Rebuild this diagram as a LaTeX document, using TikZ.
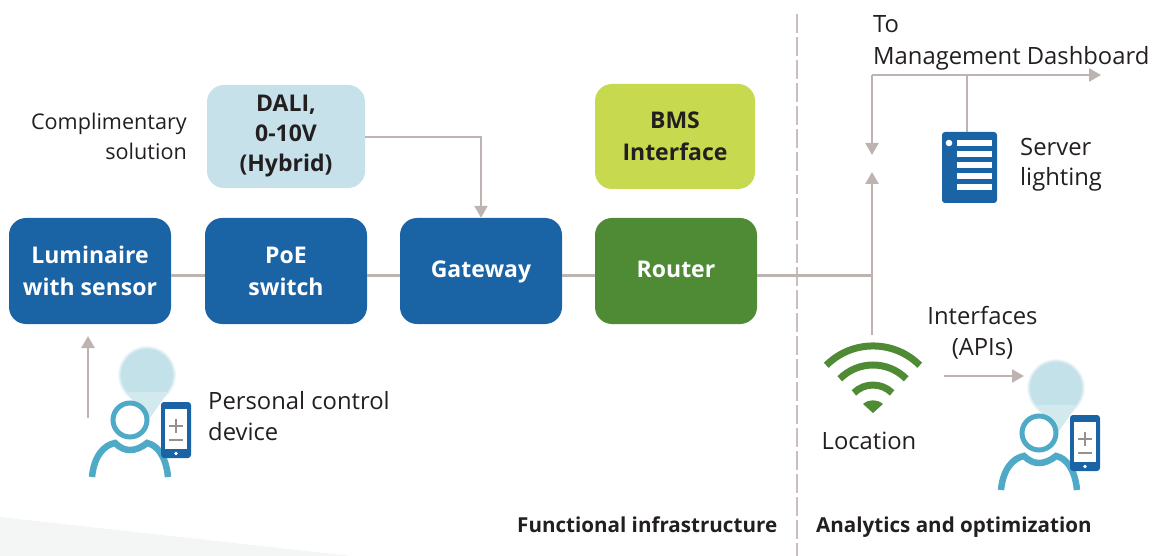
\documentclass[tikz,border=0pt]{standalone}
\usepackage{fontspec}
\setmainfont{Open Sans}
\usetikzlibrary{arrows.meta}
\definecolor{ink}{HTML}{231F20}
\definecolor{nodeblue}{HTML}{1A64A6}
\definecolor{nodegreen}{HTML}{4F8B35}
\definecolor{paleblue}{HTML}{C6E1E9}
\definecolor{lime}{HTML}{C6D94F}
\definecolor{wire}{HTML}{BDB4B2}
\definecolor{rule}{HTML}{C9BFBD}
\definecolor{teal}{HTML}{4FAAC8}
\definecolor{bubble}{HTML}{C3E1E9}
\definecolor{wedge}{HTML}{F4F6F6}
\tikzset{
  box/.style={rounded corners=17pt,inner sep=0pt,minimum width=162pt,minimum height=106pt,
    align=center,text=white,font=\fontsize{23}{32}\selectfont\bfseries},
  onebox/.style={box,text height=17pt,text depth=5pt},
  wirepath/.style={draw=wire,line width=2.5pt},
  arrowpath/.style={wirepath,-{Triangle[length=12pt,width=13pt,color=wire]}},
  label/.style={text=ink,font=\fontsize{23.8}{31.5}\selectfont,inner sep=0pt,align=left},
  smalllabel/.style={text=ink,font=\fontsize{21.6}{30}\selectfont,inner sep=0pt},
  headline/.style={text=ink,font=\fontsize{20.6}{24}\selectfont\bfseries,inner sep=0pt},
  pics/personicon/.style={code={
    \fill[bubble!25] (147,375) circle[radius=29pt];
    \fill[bubble!50] (147,375) circle[radius=28pt];
    \fill[bubble!75] (147,375) circle[radius=27pt];
    \fill[bubble] (147,375) circle[radius=26pt];
    \fill[bubble!75] (126,392) -- (168,392) -- (150,418) -- (147,418) -- cycle;
    \draw[teal,line width=5pt,fill=white] (130,420) circle[radius=17pt];
    \draw[teal,line width=6.5pt] (92,477) .. controls (94,456) and (104,445) .. (115,443)
      .. controls (120,448) and (125,450) .. (130,450)
      .. controls (135,450) and (141,448) .. (147,443)
      .. controls (157,445) and (166,456) .. (168,477);
    \fill[nodeblue,rounded corners=3pt] (161,402) rectangle (191,458);
    \fill[white] (165,409) rectangle (187,449);
    \draw[wire!80!black,line width=1.8pt] (169,426) -- (183,426) (176,419) -- (176,433);
    \draw[wire!80!black,line width=1.8pt] (169,440) -- (183,440);
    \fill[white] (176,453.5) circle[radius=1.8pt];
  }}
}
\begin{document}
\begin{tikzpicture}[x=1pt,y=-1pt]
\useasboundingbox (0,0) rectangle (1157,556);
\fill[wedge] (0,517) -- (352,556) -- (0,556) -- cycle;

% dashed divider
\coordinate (divtop) at (796.5,14);
\coordinate (divbot) at (796.5,556);
\draw[rule,line width=2pt,dash pattern=on 19pt off 4pt] (divtop) -- (divbot);

% nodes
\node[box,fill=nodeblue] (lum) at (90,271) {Luminaire\\with sensor};
\node[box,fill=nodeblue] (poe) at (286,271) {PoE\\switch};
\node[onebox,fill=nodeblue] (gw) at (481,271) {Gateway};
\node[onebox,fill=nodegreen] (router) at (676,271) {Router};
\node[box,fill=paleblue,text=ink,minimum width=158pt,minimum height=103pt,font=\fontsize{23}{30}\selectfont\bfseries] (dali) at (286,136.5) {DALI,\\0-10V\\(Hybrid)};
\node[box,fill=lime,text=ink,minimum width=160pt,minimum height=105pt] (bms) at (675,136.5) {BMS\\Interface};

% server icon
\node[fill=nodeblue,rounded corners=3pt,minimum width=55pt,minimum height=71pt,inner sep=0pt] (server) at (969.5,167.5) {};
\foreach \yy in {143,154,165,176,187}{\fill[white] (957,\yy-3.3) rectangle (992,\yy+3.3);}
\fill[white] (949,143) circle[radius=3.3pt];

% wifi icon
\coordinate (wifitop) at (872,335);
\draw[nodegreen,line width=7pt] (826.3,365.3) .. controls (852.1,339.5) and (893.9,339.5) .. (919.7,365.3);
\draw[nodegreen,line width=7pt] (839.8,378.8) .. controls (858.2,360.4) and (887.8,360.4) .. (906.2,378.8);
\draw[nodegreen,line width=7pt] (853.9,392.9) .. controls (864.4,382.4) and (881.6,382.4) .. (892.1,392.9);
\fill[nodegreen] (873,413) -- (863,404) .. controls (869,399) and (877,399) .. (883,404) -- cycle;

% people
\pic {personicon};
\pic at (909,13) {personicon};

% connectors
\coordinate (hub) at (872,275.5);
\coordinate (upend) at (872,172);
\coordinate (downend) at (872,155);
\coordinate (corner) at (872,75);
\coordinate (mgmt) at (1101,75);
\coordinate (tap) at (967,75);
\coordinate (daliturn) at (481,137);
\coordinate (pfrom) at (88,418);
\coordinate (pto) at (88,336);
\coordinate (apifrom) at (944,376);
\coordinate (apito) at (1024,376);
\draw[wirepath] (lum.east |- 0,275.5) -- (poe.west |- 0,275.5);
\draw[wirepath] (poe.east |- 0,275.5) -- (gw.west |- 0,275.5);
\draw[wirepath] (gw.east |- 0,275.5) -- (router.west |- 0,275.5);
\draw[wirepath] (router.east |- 0,275.5) -- (hub);
\draw[arrowpath] (wifitop) -- (upend);
\draw[arrowpath] (corner) -- (downend);
\draw[arrowpath] (corner) -- (mgmt);
\draw[wirepath] (tap) -- (tap |- server.north);
\draw[arrowpath] (dali.east |- daliturn) -- (daliturn) -- (gw.north);
\draw[arrowpath] (pfrom) -- (pto);
\draw[arrowpath] (apifrom) -- (apito);

% labels
\node[smalllabel,align=right,anchor=east] (compl) at (187,136.5) {Complimentary\\solution};
\node[label,anchor=west] (pcd) at (208,416) {Personal control\\device};
\node[label,anchor=west] (mgmtl) at (873,43) {To\\Management Dashboard};
\node[label,anchor=west,font=\fontsize{23.8}{30}\selectfont] (srvl) at (1020,165) {Server\\lighting};
\node[label,align=center] (api) at (982.5,333) {Interfaces\\(APIs)};
\node[label] (loc) at (869,441) {Location};
\node[headline,anchor=base west] (fi) at (517,532) {Functional infrastructure};
\node[headline,anchor=base west] (ao) at (816,532) {Analytics and optimization};
\end{tikzpicture}
\end{document}
